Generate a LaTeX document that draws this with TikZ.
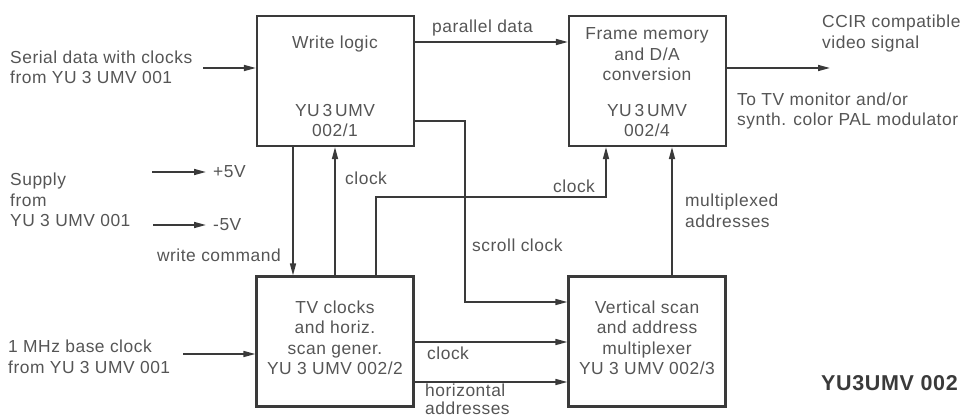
\documentclass[tikz,border=0pt]{standalone}
\usepackage{fontspec}
\setmainfont{Liberation Sans}[LetterSpace=3]
\usetikzlibrary{arrows.meta}
\definecolor{ink}{HTML}{3A3A3A}
\definecolor{txt}{HTML}{555555}
\begin{document}
\begin{tikzpicture}[x=1pt,y=-1pt,
  every node/.style={text=txt,font=\fontsize{17.4}{20.5}\selectfont,inner sep=0pt},
  block/.style={draw=ink,line width=2.2pt,minimum width=157pt,minimum height=130pt},
  lbl/.style={anchor=west,align=left},
  ctr/.style={align=center},
  wire/.style={draw=ink,line width=1.6pt},
  arr/.style={wire,-{Triangle[length=12pt,width=6pt]}}]
\useasboundingbox (0,0) rectangle (964,420);

% function blocks
\node[block] (wl) at (335.5,81) {};
\node[block] (fm) at (647.5,81) {};
\node[block] (tv) at (335,341.5) {};
\node[block] (vs) at (647,341.5) {};

% block captions
\node[ctr] (wlt) at (335,44) {Write logic};
\node[ctr] (wln) at (335,120.5) {YU\,3\,UMV\\002/1};
\node[ctr] (fmt) at (647,54.5) {Frame memory\\and D/A\\conversion};
\node[ctr] (fmn) at (647,120.5) {YU\,3\,UMV\\002/4};
\node[ctr] (tvt) at (335,338) {TV clocks\\and horiz.\\scan gener.\\YU 3 UMV 002/2};
\node[ctr] (vst) at (647,338) {Vertical scan\\and address\\multiplexer\\YU 3 UMV 002/3};

% external inputs and outputs
\node[lbl] (serial) at (10,67.5) {Serial data with clocks\\from YU 3 UMV 001};
\node[lbl] (supply) at (10,200) {Supply\\from\\YU 3 UMV 001};
\node[lbl] (mhz) at (8,357) {1 MHz base clock\\from YU 3 UMV 001};
\node[lbl] (ccir) at (822,33.5) {CCIR compatible\\video signal};
\node[lbl] (totv) at (737,111) {To TV monitor and/or\\synth. color PAL modulator};
\node[lbl] (p5) at (213,172) {+5V};
\node[lbl] (m5) at (213,225) {-5V};
\node[anchor=east] (wcmd) at (281,255) {write command};
\node[anchor=west,font=\fontsize{21.5}{24}\selectfont\bfseries,text=ink] (title) at (821,383) {YU3UMV 002};

% signal labels
\node[lbl] (pdl) at (432,28) {parallel data};
\node[lbl] (ckl1) at (345,178) {clock};
\node[lbl] (ckl2) at (553,186) {clock};
\node[lbl] (scl) at (472,245) {scroll clock};
\node[lbl] (mxl) at (685,211) {multiplexed\\addresses};
\node[lbl] (ckl3) at (427,353) {clock};
\node[lbl,font=\fontsize{17.4}{18}\selectfont] (hal) at (425,399) {horizontal\\addresses};

% free ends of the connectors
\coordinate (sin) at (203,68);
\coordinate (mhzin) at (183,354);
\coordinate (vout) at (830,68);
\coordinate (p5a) at (152,172);
\coordinate (p5b) at (206,172);
\coordinate (m5a) at (153,225);
\coordinate (m5b) at (206,225);
\coordinate (pd) at (0,42);
\coordinate (sc) at (465,121);
\coordinate (scv) at (465,302);
\coordinate (ck) at (376,197);
\coordinate (ckr) at (606,197);
\coordinate (wc) at (293,0);
\coordinate (cku) at (335,0);
\coordinate (mx) at (672,0);
\coordinate (ck3) at (0,342);
\coordinate (ha) at (0,382);

% connectors
\draw[arr] (sin) -- (sin -| wl.west);
\draw[arr] (mhzin) -- (mhzin -| tv.west);
\draw[arr] (p5a) -- (p5b);
\draw[arr] (m5a) -- (m5b);
\draw[arr] (pd -| wl.east) -- (pd -| fm.west);
\draw[arr] (fm.east |- vout) -- (vout);
\draw[arr] (sc -| wl.east) -- (sc) -- (scv) -- (scv -| vs.west);
\draw[arr] (ck |- tv.north) -- (ck) -- (ckr) -- (ckr |- fm.south);
\draw[arr] (mx |- vs.north) -- (mx |- fm.south);
\draw[arr] (wc |- wl.south) -- (wc |- tv.north);
\draw[arr] (cku |- tv.north) -- (cku |- wl.south);
\draw[arr] (ck3 -| tv.east) -- (ck3 -| vs.west);
\draw[arr] (ha -| tv.east) -- (ha -| vs.west);
\end{tikzpicture}
\end{document}
